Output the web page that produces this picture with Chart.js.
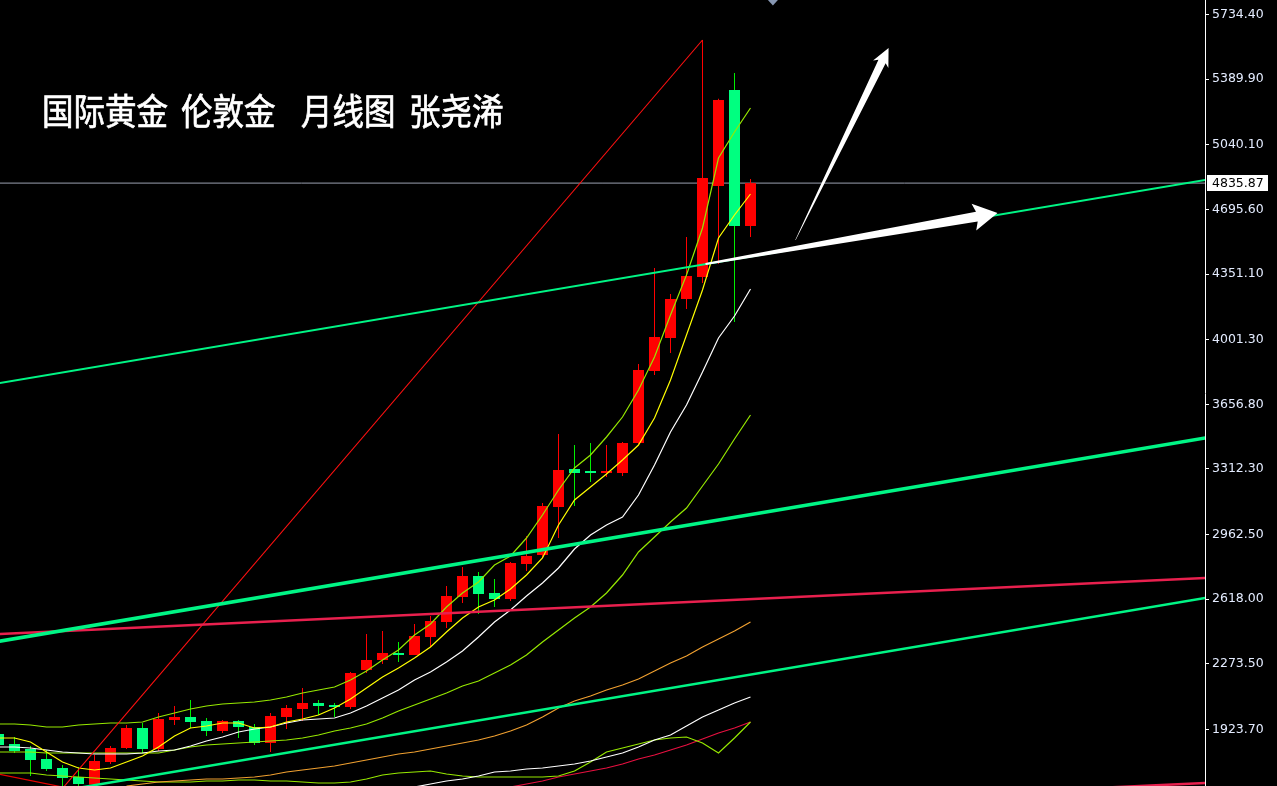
<!DOCTYPE html>
<html>
<head>
<meta charset="utf-8">
<script src="https://cdn.jsdelivr.net/npm/chart.js@4.4.1/dist/chart.umd.min.js"></script>
<style>
  html, body { margin: 0; padding: 0; background: #000; }
  #wrap { position: relative; width: 1277px; height: 786px; background: #000; }
</style>
</head>
<body>
<div id="wrap"><canvas id="chart"></canvas></div>
<script>
// monthly candles, index 0..47 (oldest first)
const opens = [1899.7, 1846.4, 1819.8, 1766.5, 1718.5, 1670.5, 1630.0, 1750.5, 1825.1, 1931.7, 1819.8, 1974.3, 1990.3, 1969.0, 1915.7, 1969.0, 1937.0, 1851.7, 1990.3, 2032.9, 2064.9, 2054.3, 2043.6, 2240.8, 2294.1, 2331.4, 2320.8, 2416.7, 2496.6, 2629.9, 2741.8, 2651.2, 2619.2, 2805.7, 2853.7, 3109.5, 3312.1, 3301.4, 3290.8, 3290.8, 3450.6, 3834.4, 4010.3, 4218.1, 4335.4, 4820.4, 5332.0, 4607.2];
const highs = [1915.7, 1883.7, 1835.7, 1814.4, 1734.5, 1723.8, 1787.8, 1835.7, 1947.7, 1958.3, 2011.6, 2048.9, 2080.9, 1985.0, 1974.3, 1974.3, 1953.0, 2011.6, 2054.3, 2144.9, 2080.9, 2064.9, 2230.1, 2432.7, 2448.7, 2390.0, 2486.0, 2528.6, 2688.5, 2789.8, 2763.1, 2725.8, 2816.4, 2955.0, 3130.9, 3498.6, 3440.0, 3450.6, 3440.0, 3456.0, 3871.7, 4383.3, 4244.8, 4548.6, 5598.5, 5285.0, 5422.6, 4857.7];
const lows = [1825.1, 1798.5, 1675.9, 1702.5, 1615.0, 1617.0, 1616.0, 1739.8, 1819.8, 1798.5, 1809.1, 1947.7, 1931.7, 1889.0, 1905.0, 1878.4, 1841.1, 1803.8, 1926.3, 1969.0, 2001.0, 1990.3, 2032.9, 2224.8, 2272.8, 2283.4, 2320.8, 2363.4, 2464.6, 2597.9, 2539.3, 2576.6, 2608.6, 2768.4, 2837.7, 2944.3, 3114.9, 3242.8, 3269.4, 3274.8, 3445.3, 3813.1, 3930.3, 4164.8, 4303.4, 4404.7, 4095.5, 4548.6];
const closes = [1841.1, 1809.1, 1761.1, 1713.2, 1665.2, 1633.2, 1755.8, 1825.1, 1931.7, 1819.8, 1979.7, 1990.3, 1963.7, 1915.7, 1969.0, 1937.0, 1851.7, 1995.6, 2038.3, 2064.9, 2048.9, 2043.6, 2224.8, 2294.1, 2331.4, 2320.8, 2422.0, 2502.0, 2635.2, 2741.8, 2645.9, 2619.2, 2811.1, 2848.4, 3114.9, 3306.7, 3290.8, 3290.8, 3296.1, 3450.6, 3839.7, 4015.6, 4218.1, 4340.7, 4863.0, 5278.7, 4607.2, 4835.87];

// indicator lines
const maYellow = [1878.4, 1878.4, 1857.0, 1803.7, 1750.4, 1718.5, 1707.8, 1718.5, 1750.4, 1782.4, 1830.4, 1889.0, 1931.7, 1942.3, 1958.3, 1958.3, 1931.7, 1937.0, 1963.6, 1979.6, 2001.0, 2038.3, 2086.2, 2144.9, 2203.5, 2251.5, 2304.8, 2363.4, 2443.3, 2518.0, 2576.6, 2613.9, 2672.5, 2747.1, 2837.8, 3013.6, 3146.9, 3216.2, 3285.5, 3360.1, 3440.0, 3583.9, 3786.4, 4026.3, 4266.1, 4543.3, 4665.9, 4777.8];
const bandUpper = [1953.0, 1953.0, 1947.7, 1937.0, 1937.0, 1947.7, 1953.0, 1958.3, 1958.3, 1963.6, 1990.3, 2011.6, 2032.9, 2048.9, 2059.6, 2064.9, 2070.2, 2080.9, 2096.9, 2118.2, 2134.2, 2150.2, 2187.5, 2235.5, 2294.1, 2347.4, 2427.4, 2486.0, 2576.6, 2651.2, 2709.8, 2800.4, 2848.4, 2944.3, 3067.0, 3200.2, 3317.4, 3386.7, 3482.7, 3589.2, 3733.1, 3909.0, 4132.9, 4346.0, 4596.6, 4969.6, 5108.1, 5236.1];
const maWhite = [1830.4, 1830.4, 1825.1, 1814.4, 1803.7, 1798.4, 1793.1, 1793.1, 1793.1, 1798.4, 1809.1, 1814.4, 1835.7, 1862.4, 1883.7, 1910.3, 1926.3, 1937.0, 1958.3, 1974.3, 1979.6, 1985.0, 2011.6, 2048.9, 2091.6, 2134.2, 2187.5, 2230.1, 2283.4, 2342.1, 2416.7, 2496.6, 2560.6, 2635.2, 2704.5, 2784.5, 2885.7, 2960.4, 3013.6, 3056.3, 3173.5, 3333.4, 3509.3, 3653.2, 3829.1, 4010.3, 4127.5, 4271.4];
const maGreen = [1803.7, 1803.7, 1803.7, 1798.4, 1798.4, 1798.4, 1798.4, 1798.4, 1798.4, 1798.4, 1798.4, 1814.4, 1830.4, 1841.1, 1846.4, 1851.7, 1857.0, 1862.4, 1867.7, 1878.4, 1894.4, 1915.7, 1931.7, 1953.0, 1985.0, 2022.3, 2054.3, 2086.2, 2118.2, 2155.5, 2182.2, 2224.8, 2267.5, 2320.8, 2390.0, 2453.9, 2518.0, 2576.6, 2651.2, 2747.1, 2869.8, 2949.7, 3029.6, 3104.3, 3221.5, 3338.8, 3472.0, 3599.9];
const maOrange = [1622.5, 1633.2, 1643.9, 1649.2, 1654.5, 1659.9, 1659.9, 1665.2, 1670.5, 1681.2, 1697.2, 1707.8, 1718.5, 1729.2, 1745.2, 1761.1, 1777.1, 1793.1, 1803.7, 1819.7, 1835.7, 1851.7, 1867.7, 1889.0, 1915.7, 1947.7, 1990.3, 2038.3, 2075.6, 2102.2, 2134.2, 2160.9, 2192.8, 2235.5, 2278.1, 2315.4, 2363.4, 2406.0, 2448.7, 2496.6]; // from index 8
const maWhiteLong = [1601.2, 1617.2, 1633.2, 1649.2, 1659.9, 1675.8, 1697.2, 1702.5, 1713.2, 1718.5, 1729.2, 1739.8, 1755.8, 1777.1, 1798.4, 1830.4, 1867.7, 1894.4, 1942.3, 1990.3, 2027.6, 2064.9, 2096.9]; // from index 25
const lowGreen = [1691.8, 1691.8, 1691.8, 1681.2, 1675.8, 1670.5, 1665.2, 1659.9, 1654.5, 1649.2, 1643.9, 1643.9, 1643.9, 1649.2, 1649.2, 1654.5, 1654.5, 1649.2, 1649.2, 1643.9, 1638.5, 1638.5, 1643.9, 1659.9, 1681.2, 1691.8, 1697.2, 1702.5, 1686.5, 1675.8, 1670.5, 1670.5, 1670.5, 1670.5, 1670.5, 1675.8, 1702.5, 1750.4, 1803.7, 1825.1, 1846.4, 1867.7, 1878.4, 1883.7, 1851.7, 1798.4, 1878.4, 1963.6];
const maCrimson = [1617.2, 1633.2, 1649.2, 1670.5, 1686.5, 1702.5, 1718.5, 1739.8, 1766.5, 1787.8, 1814.4, 1841.1, 1873.0, 1905.0, 1931.7, 1963.6]; // from index 32
const maDarkRed = [[0, 1686.5], [4, 1617.2]];

// hand drawn trend lines, [index, price] end points
const greenTop = [[0, 3768.6], [75.5, 4853.3]];
const greenMid = [[0, 2393.5], [75.5, 3478.2]];
const greenLow = [[0, 1540.8], [75.5, 2625.4]];
const crimsonTop = [[0, 2432.2], [75.5, 2731.3]];
const crimsonLow = [[62.6, 1588.6], [75.5, 1638.8]];
const redDiag = [[3.5, 1560.0], [44, 5598.5]];

// arrows: [tail, tip]
const arrowUp = [[49.81, 4532.6], [55.63, 5555.9]];
const arrowRight = [[44.19, 4404.7], [62.44, 4676.5]];

const yTicks = [1923.7, 2273.5, 2618.0, 2962.5, 3312.3, 3656.8, 4001.3, 4351.1, 4695.6, 5040.1, 5389.9, 5734.4];
const lastPrice = 4835.87;
const titleParts = ['国际黄金', '伦敦金', '月线图', '张尧浠'];

const idx = opens.map((_, i) => i);
const isUp = i => closes[i] >= opens[i];
const series = (vals, from = 0) => vals.map((v, k) => ({ x: from + k, y: v }));
const seg = pairs => pairs.map(([x, y]) => ({ x, y }));

function lineDs(data, color, width, order) {
  return { type: 'line', data, borderColor: color, borderWidth: width, pointRadius: 0, tension: 0, order };
}

function drawArrow(ctx, xs, ys, arrow, spec) {
  const x0 = xs.getPixelForValue(arrow[0][0]), y0 = ys.getPixelForValue(arrow[0][1]);
  const x1 = xs.getPixelForValue(arrow[1][0]), y1 = ys.getPixelForValue(arrow[1][1]);
  const len = Math.hypot(x1 - x0, y1 - y0);
  const ux = (x1 - x0) / len, uy = (y1 - y0) / len;
  const nx = -uy, ny = ux;
  const [tail, shaft, head, wing] = spec;
  const bx = x1 - ux * head, by = y1 - uy * head;
  const wx = bx - ux * 3, wy = by - uy * 3;
  ctx.beginPath();
  ctx.moveTo(x0 + nx * tail / 2, y0 + ny * tail / 2);
  ctx.lineTo(bx + nx * shaft / 2, by + ny * shaft / 2);
  ctx.lineTo(wx + nx * wing / 2, wy + ny * wing / 2);
  ctx.lineTo(x1, y1);
  ctx.lineTo(wx - nx * wing / 2, wy - ny * wing / 2);
  ctx.lineTo(bx - nx * shaft / 2, by - ny * shaft / 2);
  ctx.lineTo(x0 - nx * tail / 2, y0 - ny * tail / 2);
  ctx.closePath();
  ctx.fill();
}

const overlay = {
  id: 'overlay',
  afterDatasetsDraw(chart) {
    const { ctx, chartArea: area } = chart;
    const xs = chart.scales.x, ys = chart.scales.y;
    ctx.save();
    ctx.beginPath();
    ctx.rect(area.left, area.top, area.width, area.height);
    ctx.clip();
    ctx.fillStyle = '#ffffff';
    drawArrow(ctx, xs, ys, arrowUp, [0.5, 8, 15, 17]);
    drawArrow(ctx, xs, ys, arrowRight, [2, 10, 21, 27]);

    // little marker at the top
    const mx = xs.getPixelForValue(48.4);
    ctx.fillStyle = '#8797b2';
    ctx.beginPath();
    ctx.moveTo(mx - 5, area.top);
    ctx.lineTo(mx + 5, area.top);
    ctx.lineTo(mx, area.top + 5.5);
    ctx.closePath();
    ctx.fill();

    // title
    ctx.fillStyle = '#ffffff';
    ctx.strokeStyle = '#ffffff';
    ctx.lineWidth = 0.7;
    ctx.font = '36px "Noto Sans CJK SC"';
    ctx.textBaseline = 'alphabetic';
    const tx = [42, 181, 301, 409];
    titleParts.forEach((t, k) => {
      ctx.save();
      ctx.translate(tx[k], 125);
      ctx.scale(0.875, 1);
      ctx.fillText(t, 0, 0);
      ctx.strokeText(t, 0, 0);
      ctx.restore();
    });
    ctx.restore();

    // last price tag on the axis
    const py = ys.getPixelForValue(lastPrice);
    ctx.save();
    ctx.fillStyle = '#ffffff';
    ctx.fillRect(area.right + 2, Math.round(py) - 8, 61, 16);
    ctx.fillStyle = '#000000';
    ctx.font = '12.5px "DejaVu Sans"';
    ctx.textBaseline = 'middle';
    ctx.fillText(lastPrice.toFixed(2), area.right + 7, Math.round(py) + 0.5);
    ctx.restore();
  }
};

Chart.defaults.font.family = '"DejaVu Sans", sans-serif';

new Chart(document.getElementById('chart'), {
  type: 'bar',
  data: {
    datasets: [
      lineDs(seg([[0.09, lastPrice], [75.5, lastPrice]]), '#9aa0b0', 1, 30),
      {
        type: 'bar',
        data: idx.map(i => ({ x: i, y: [lows[i], highs[i]] })),
        backgroundColor: c => (isUp(c.dataIndex) ? '#ff0000' : '#00ee00'),
        barThickness: 1,
        inflateAmount: 0,
        grouped: false,
        order: 21,
      },
      {
        type: 'bar',
        data: idx.map(i => ({ x: i, y: [opens[i], closes[i]] })),
        backgroundColor: c => (isUp(c.dataIndex) ? '#ff0000' : '#00ff80'),
        barThickness: 11,
        inflateAmount: 0,
        minBarLength: 2,
        grouped: false,
        order: 20,
      },
      lineDs(series(lowGreen), '#96e800', 1.2, 12),
      lineDs(series(maCrimson, 32), '#e81040', 1.2, 12),
      lineDs(seg(maDarkRed), '#e80000', 1.2, 12),
      lineDs(series(maWhiteLong, 25), '#ffffff', 1.2, 11),
      lineDs(series(maOrange, 8), '#f0a030', 1.2, 11),
      lineDs(series(maGreen), '#96e800', 1.2, 10),
      lineDs(series(maWhite), '#ffffff', 1.2, 9),
      lineDs(series(bandUpper), '#96e800', 1.2, 8),
      lineDs(series(maYellow), '#ffff00', 1.2, 7),
      lineDs(seg(redDiag), '#ff1010', 1.1, 6),
      lineDs(seg(crimsonTop), '#e8204e', 2.5, 5),
      lineDs(seg(crimsonLow), '#e8204e', 2.5, 5),
      lineDs(seg(greenLow), '#00f585', 2.5, 4),
      lineDs(seg(greenMid), '#00f585', 3.5, 4),
      lineDs(seg(greenTop), '#00f585', 2, 4),
    ],
  },
  options: {
    responsive: true,
    maintainAspectRatio: false,
    animation: false,
    devicePixelRatio: 1,
    events: [],
    layout: { padding: 0 },
    plugins: {
      legend: { display: false },
      tooltip: { enabled: false },
    },
    scales: {
      x: {
        type: 'linear',
        min: 0.09375,
        max: 75.40625,
        offset: false,
        display: false,
        grid: { offset: false },
      },
      y: {
        type: 'linear',
        position: 'right',
        min: 1622.6,
        max: 5811.7,
        afterBuildTicks: scale => {
          scale.ticks = yTicks.map(v => ({ value: v }));
        },
        afterFit: scale => {
          scale.width = 72;
          scale.paddingTop = 0;
          scale.paddingBottom = 0;
        },
        border: { display: true, color: '#ffffff', width: 1 },
        grid: { drawOnChartArea: false, drawTicks: true, tickLength: 4, color: '#ffffff' },
        ticks: {
          color: '#e4ecff',
          padding: 3,
          font: { size: 12.5 },
          callback: v => v.toFixed(2),
        },
      },
    },
  },
  plugins: [overlay],
});
</script>
</body>
</html>
